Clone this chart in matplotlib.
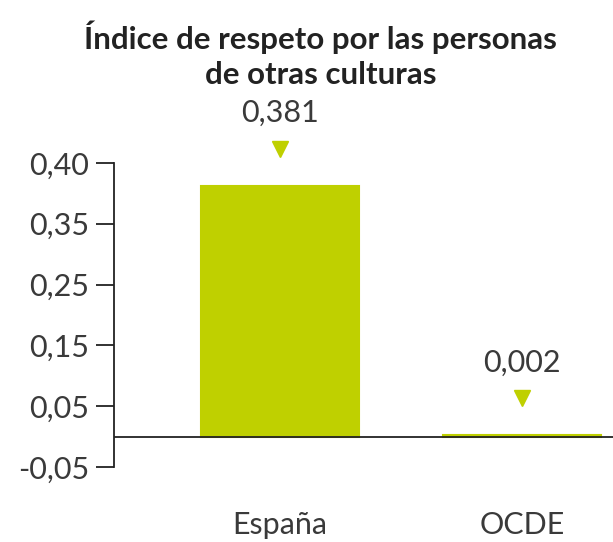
import numpy as np
import matplotlib
matplotlib.use("Agg")
import matplotlib.pyplot as plt
from matplotlib.transforms import offset_copy

# ----- data -----
categories = ["España", "OCDE"]
values = [0.381, 0.002]
value_labels = ["0,381", "0,002"]
tick_values = [-0.05, 0.05, 0.15, 0.25, 0.35, 0.40]
tick_labels = ["-0,05", "0,05", "0,15", "0,25", "0,35", "0,40"]
title = "Índice de respeto por las personas\nde otras culturas"

GREEN = "#bfd000"
TEXT = "#3a3a3a"
plt.rcParams["font.family"] = ["Lato", "DejaVu Sans"]

# the source axis puts its labels at equal spacing, so map piecewise
steps = np.arange(len(tick_values), dtype=float)
def fwd(v):
    return np.interp(v, tick_values, steps)
def inv(s):
    return np.interp(s, steps, tick_values)

fig = plt.figure(figsize=(6.13, 5.42), dpi=100)
ax = fig.add_axes([0.186, 0.1384, 0.814, 0.5609])
ax.set_yscale("function", functions=(fwd, inv))
ax.set_ylim(-0.05, 0.40)
ax.set_xlim(-0.686, 1.376)

x = np.arange(len(categories))
ax.bar(x, values, width=0.653, color=GREEN, edgecolor=GREEN, linewidth=1.5, zorder=2)
ax.axhline(0, color="#222222", lw=1.3, zorder=3)

tri_tr = offset_copy(ax.transData, fig=fig, x=0, y=37, units="dots")
for xi, v, lab in zip(x, values, value_labels):
    ax.plot([xi], [v], marker="v", ms=11, color=GREEN, ls="none",
            transform=tri_tr, clip_on=False)
    ax.annotate(lab, xy=(xi, v), xytext=(0, 73), textcoords="offset pixels",
                ha="center", va="center", fontsize=22, color=TEXT)

ax.set_yticks(tick_values)
ax.set_yticklabels(tick_labels)
ax.yaxis.set_minor_locator(matplotlib.ticker.NullLocator())
ax.tick_params(axis="y", length=13, width=1.3, color="#222222", pad=5,
               labelsize=22, labelcolor=TEXT)

ax.set_xticks(x)
ax.set_xticklabels(categories, fontsize=22, color=TEXT)
ax.tick_params(axis="x", length=0, pad=32)

for s in ["top", "right", "bottom"]:
    ax.spines[s].set_visible(False)
ax.spines["left"].set_linewidth(1.3)
ax.spines["left"].set_color("#222222")

fig.text(0.523, 0.899, title, ha="center", va="center", fontsize=22.5,
         fontweight="bold", color="#222222", linespacing=1.32)

fig.savefig("out.png", dpi=100)
